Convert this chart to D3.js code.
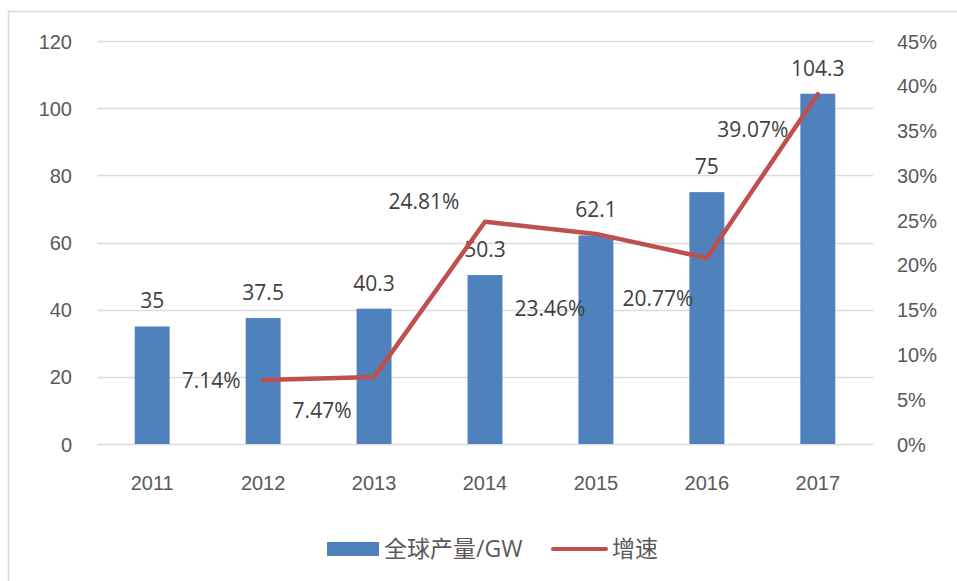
<!DOCTYPE html>
<html>
<head>
<meta charset="utf-8">
<script src="https://cdn.jsdelivr.net/npm/d3@7"></script>
<style>
  body { margin: 0; background: #fff; }
  svg { display: block; font-family: "Open Sans", "Noto Sans CJK SC", sans-serif; }
</style>
</head>
<body>
<div id="chart"></div>
<script>
const years = ["2011", "2012", "2013", "2014", "2015", "2016", "2017"];
const output = [35, 37.5, 40.3, 50.3, 62.1, 75, 104.3];
const growth = [null, 7.14, 7.47, 24.81, 23.46, 20.77, 39.07];
const leftTicks = [0, 20, 40, 60, 80, 100, 120];
const rightTicks = [0, 5, 10, 15, 20, 25, 30, 35, 40, 45];
// label nudges for the growth labels (placed by hand in the original)
const growthLabelOffsets = [null, [-52, 1], [-52, 34], [-61, -20], [-46, 75], [-49, 41], [-65, 36]];

const width = 957, height = 581;
const margin = { left: 97, right: 84, top: 41, bottom: 137 };

const svg = d3.select("#chart").append("svg")
  .attr("width", width)
  .attr("height", height);

// outer frame (only left and top edges are inside the picture)
svg.append("rect")
  .attr("x", 8.5).attr("y", 11.5)
  .attr("width", 1000).attr("height", 700)
  .attr("fill", "none")
  .attr("stroke", "#d9d9d9")
  .attr("stroke-width", 1.5);

var x = d3.scaleBand().domain(years).range([margin.left, width - margin.right]).paddingInner(0.685).paddingOuter(0.34);
var y = d3.scaleLinear().domain([0, 120]).range([height - margin.bottom, margin.top]);
var y2 = d3.scaleLinear().domain([0, 45]).range([height - margin.bottom, margin.top]);

// gridlines
svg.append("g")
  .selectAll("line")
  .data(leftTicks)
  .enter()
  .append("line")
  .attr("x1", margin.left)
  .attr("x2", width - margin.right)
  .attr("y1", d => Math.round(y(d)) + 0.5)
  .attr("y2", d => Math.round(y(d)) + 0.5)
  .attr("stroke", "#dcdcdc")
  .attr("stroke-width", 1.5);

// left axis
var leftAxis = svg.append("g")
  .attr("transform", `translate(${margin.left - 25},0)`)
  .call(d3.axisLeft(y).tickValues(leftTicks).tickSize(0).tickPadding(0));
leftAxis.select(".domain").remove();
leftAxis.selectAll("text").attr("fill", "#595959").style("font-size", "20px").attr("dy", "0.35em");

// right axis
var rightAxis = svg.append("g")
  .attr("transform", `translate(${width - margin.right + 24},0)`)
  .call(d3.axisRight(y2).tickValues(rightTicks).tickSize(0).tickPadding(0).tickFormat(d => d + "%"));
rightAxis.select(".domain").remove();
rightAxis.selectAll("text").attr("fill", "#595959").style("font-size", "20px").attr("dy", "0.35em");

// x axis labels
var xAxis = svg.append("g")
  .attr("transform", `translate(0,${height - margin.bottom})`)
  .call(d3.axisBottom(x).tickSize(0).tickPadding(32));
xAxis.select(".domain").remove();
xAxis.selectAll("text").attr("fill", "#595959").style("font-size", "20px");

// bars
svg.append("g")
  .selectAll("rect")
  .data(output)
  .enter()
  .append("rect")
  .attr("x", (d, i) => x(years[i]))
  .attr("y", d => y(d))
  .attr("width", x.bandwidth())
  .attr("height", d => y(0) - y(d))
  .attr("fill", "#4f81bd");

// bar labels
svg.append("g")
  .selectAll("text")
  .data(output)
  .enter()
  .append("text")
  .attr("x", (d, i) => x(years[i]) + x.bandwidth() / 2)
  .attr("y", d => y(d) - 18)
  .attr("text-anchor", "middle")
  .attr("fill", "#404040")
  .style("font-size", "21px")
  .text(d => d);

// growth line
var pts = growth.map((g, i) => ({ g: g, i: i })).filter(d => d.g != null);
var line = d3.line()
  .x(d => x(years[d.i]) + x.bandwidth() / 2)
  .y(d => y2(d.g));

svg.append("path")
  .datum(pts)
  .attr("d", line)
  .attr("fill", "none")
  .attr("stroke", "#c0504d")
  .attr("stroke-width", 4.5)
  .attr("stroke-linejoin", "round")
  .attr("stroke-linecap", "round");

// growth labels
svg.append("g")
  .selectAll("text")
  .data(pts)
  .enter()
  .append("text")
  .attr("x", d => x(years[d.i]) + x.bandwidth() / 2 + growthLabelOffsets[d.i][0])
  .attr("y", d => y2(d.g) + growthLabelOffsets[d.i][1])
  .attr("dy", "0.35em")
  .attr("text-anchor", "middle")
  .attr("fill", "#404040")
  .style("font-size", "21px")
  .text(d => d.g.toFixed(2) + "%");

// legend
var legend = svg.append("g").attr("transform", "translate(327,549)");
legend.append("rect")
  .attr("x", 0).attr("y", -7)
  .attr("width", 52).attr("height", 14)
  .attr("fill", "#4f81bd");
legend.append("text")
  .attr("x", 57).attr("y", 0).attr("dy", "0.35em")
  .attr("fill", "#595959")
  .style("font-size", "23px")
  .text("全球产量/GW");
legend.append("line")
  .attr("x1", 226).attr("x2", 279)
  .attr("y1", 0).attr("y2", 0)
  .attr("stroke", "#c0504d")
  .attr("stroke-width", 4)
  .attr("stroke-linecap", "round");
legend.append("text")
  .attr("x", 285).attr("y", 0).attr("dy", "0.35em")
  .attr("fill", "#595959")
  .style("font-size", "23px")
  .text("增速");
</script>
</body>
</html>
